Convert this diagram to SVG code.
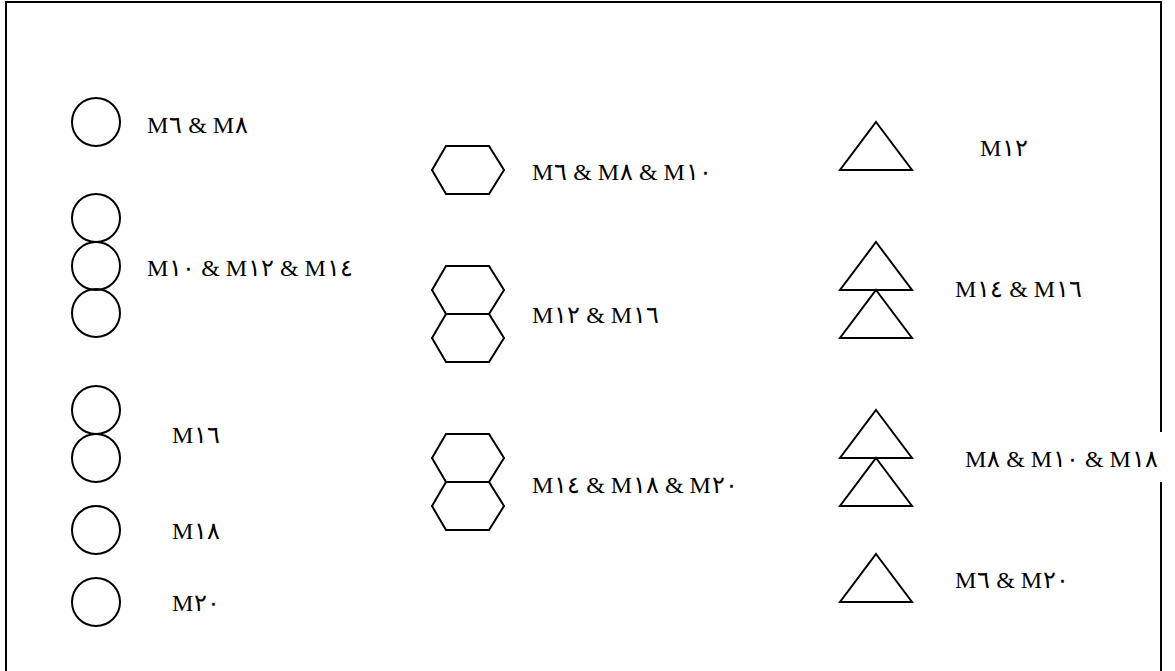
<svg xmlns="http://www.w3.org/2000/svg" width="1175" height="671" viewBox="0 0 1175 671">
<style>
.s{fill:none;stroke:#000;stroke-width:2}
.t{font-family:'Liberation Serif','Times New Roman',serif;font-size:24px;letter-spacing:0.8px;fill:#000}
</style>
<defs>
<circle id="c" r="24" class="s"/>
<polygon id="h" points="-43,0 -29,-24 14,-24 29,0 14,24 -29,24" class="s"/>
<polygon id="tr" points="0,-48 36,0 -36,0" class="s"/>
</defs>
<rect width="1175" height="671" fill="#fff"/>
<rect id="frame" x="6" y="2" width="1155" height="700" fill="none" stroke="#000" stroke-width="2"/>
<g id="circle-m6-m8"><use href="#c" x="96" y="122"/><text class="t" x="147" y="133">M٦ &amp; M٨</text></g>
<g id="circle-m10-m12-m14"><use href="#c" x="96" y="218"/><use href="#c" x="96" y="266"/><use href="#c" x="96" y="313"/><text class="t" x="147" y="276">M١٠ &amp; M١٢ &amp; M١٤</text></g>
<g id="circle-m16"><use href="#c" x="96" y="410"/><use href="#c" x="96" y="458"/><text class="t" x="172" y="443">M١٦</text></g>
<g id="circle-m18"><use href="#c" x="96" y="530"/><text class="t" x="172" y="539">M١٨</text></g>
<g id="circle-m20"><use href="#c" x="96" y="602"/><text class="t" x="172" y="611">M٢٠</text></g>
<g id="hex-m6-m8-m10"><use href="#h" x="475" y="170"/><text class="t" x="532" y="180">M٦ &amp; M٨ &amp; M١٠</text></g>
<g id="hex-m12-m16"><use href="#h" x="475" y="290"/><use href="#h" x="475" y="338"/><text class="t" x="532" y="323">M١٢ &amp; M١٦</text></g>
<g id="hex-m14-m18-m20"><use href="#h" x="475" y="458"/><use href="#h" x="475" y="506"/><text class="t" x="532" y="493">M١٤ &amp; M١٨ &amp; M٢٠</text></g>
<g id="tri-m12"><use href="#tr" x="876" y="170"/><text class="t" x="980" y="156">M١٢</text></g>
<g id="tri-m14-m16"><use href="#tr" x="876" y="290"/><use href="#tr" x="876" y="338"/><text class="t" x="955" y="297">M١٤ &amp; M١٦</text></g>
<g id="tri-m8-m10-m18"><use href="#tr" x="876" y="458"/><use href="#tr" x="876" y="506"/><rect x="1150" y="432" width="25" height="50" fill="#fff"/><text class="t" x="965" y="467">M٨ &amp; M١٠ &amp; M١٨</text></g>
<g id="tri-m6-m20"><use href="#tr" x="876" y="602"/><text class="t" x="955" y="588">M٦ &amp; M٢٠</text></g>
<g id="connectors"/>
</svg>
